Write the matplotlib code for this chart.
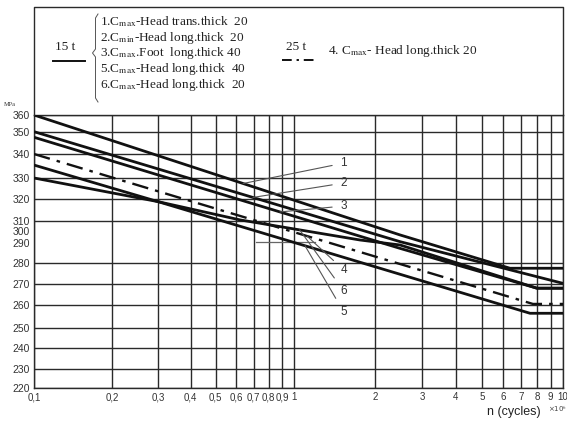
import numpy as np
import matplotlib
matplotlib.use("Agg")
import matplotlib.pyplot as plt
from matplotlib.ticker import NullLocator

# ---------------- data ----------------
x_ticks = [0.1, 0.2, 0.3, 0.4, 0.5, 0.6, 0.7, 0.8, 0.9, 1, 2, 3, 4, 5, 6, 7, 8, 9, 10]
x_ticklabels = ["0,1", "0,2", "0,3", "0,4", "0,5", "0,6", "0,7", "0,8", "0,9",
                "1", "2", "3", "4", "5", "6", "7", "8", "9", "10"]
y_ticks = [360, 350, 340, 330, 320, 310, 300, 290, 280, 270, 260, 250, 240, 230, 220]
y_grid = [360, 350, 340, 330, 320, 310, 280, 270, 260, 250, 240, 230, 220]

# non-uniform stress axis of the original drawing (value -> relative height)
y_knot_vals = [220, 230, 240, 250, 260, 270, 280, 290, 300, 310, 320, 330, 340, 350, 360]
y_knot_pos = [0, 19, 40, 60, 83, 104, 125, 145, 157, 167, 189, 210, 234, 256, 273]

line1_x = [0.1, 2.48, 6.35, 10]
line1_y = [360, 296.7, 277.5, 277.5]
line2_x = [0.1, 2.48, 10]
line2_y = [350.2, 291.1, 270.3]
line3_x = [0.1, 2.48, 8.0, 10]
line3_y = [347.6, 287.3, 268.0, 268.0]
line4_x = [0.1, 7.73, 10]
line4_y = [340, 260.5, 260.5]
line5_x = [0.1, 0.3, 7.54, 10]
line5_y = [330, 318.8, 256.4, 256.4]
line6_x = [0.1, 0.3, 0.62, 1.76, 2.48, 8.0, 10]
line6_y = [335.4, 318.8, 310.5, 292.5, 289.0, 268.0, 268.0]

legend_15t = ["1.C$_{\\mathrm{max}}$-Head trans.thick  20",
              "2.C$_{\\mathrm{min}}$-Head long.thick  20",
              "3.C$_{\\mathrm{max}}$.Foot  long.thick 40",
              "5.C$_{\\mathrm{max}}$-Head long.thick  40",
              "6.C$_{\\mathrm{max}}$-Head long.thick  20"]
legend_25t = "4. C$_{\\mathrm{max}}$- Head long.thick 20"

# ---------------- scales ----------------
YV = np.array([0] + y_knot_vals + [1000], float)
YP = np.array([-418] + y_knot_pos + [1361], float)


def yf(v):
    return np.interp(np.asarray(v, float), YV, YP)


def yi(p):
    return np.interp(np.asarray(p, float), YP, YV)


def xf(x):
    x = np.asarray(x, float)
    l = np.log10(np.clip(x, 1e-300, None))
    return np.where(l < 0, l * 260.0, l * 269.0)


def xi(p):
    p = np.asarray(p, float)
    return np.where(p < 0, 10 ** (p / 260.0), 10 ** (p / 269.0))


def on_line(xs, ys, xq):
    return float(yi(np.interp(xf(xq), xf(np.array(xs)), yf(np.array(ys)))))


plt.rcParams['mathtext.fontset'] = 'stix'
W, H = 567, 425
fig = plt.figure(figsize=(W / 100, H / 100), dpi=100)

ax = fig.add_axes([34 / W, (H - 388) / H, 529 / W, 273 / H])
ax.set_xscale('function', functions=(xf, xi))
ax.set_yscale('function', functions=(yf, yi))
ax.set_xlim(0.1, 10)
ax.set_ylim(220, 360)

gc = '#2a2a2a'
for v in y_grid:
    ax.axhline(v, color=gc, lw=1.0, zorder=1)
for v in x_ticks:
    ax.axvline(v, color=gc, lw=1.0, zorder=1)

ax.set_xticks(x_ticks)
ax.set_xticklabels(x_ticklabels, fontsize=7, family='Liberation Sans', color='#333333')
ax.set_yticks(y_ticks)
ax.set_yticklabels([str(v) for v in y_ticks], fontsize=7.5, family='Liberation Sans', color='#333333')
ax.xaxis.set_minor_locator(NullLocator())
ax.yaxis.set_minor_locator(NullLocator())
ax.tick_params(length=0, pad=3)
for s in ax.spines.values():
    s.set_color(gc)
    s.set_linewidth(1.0)

lc = '#111111'
for xs, ys in [(line1_x, line1_y), (line2_x, line2_y), (line3_x, line3_y),
               (line5_x, line5_y), (line6_x, line6_y)]:
    ax.plot(xs, ys, color=lc, lw=2.0, solid_capstyle='butt', zorder=3)
ax.plot(line4_x, line4_y, color=lc, lw=1.7, dashes=(7, 3, 1.5, 3), zorder=3)

# gray stub line
ax.plot([0.714, 1.197], [291.1, 291.1], color='#666666', lw=0.9, zorder=2)

# leaders
lead = dict(arrowstyle='-', color='#555555', lw=0.8, shrinkA=4, shrinkB=0)
labels = [("1", line1_x, line1_y, 0.637, 336.2),
          ("2", line2_x, line2_y, 0.695, 327.6),
          ("3", line3_x, line3_y, 0.883, 316.8),
          ("4", line4_x, line4_y, 1.118, 276.7),
          ("6", line6_x, line6_y, 1.05, 266.7),
          ("5", line5_x, line5_y, 1.099, 257.0)]
for txt, xs, ys, xq, ylab in labels:
    ax.annotate(txt, xy=(xq, on_line(xs, ys, xq)), xytext=(1.53, ylab),
                ha='center', va='center', fontsize=8.5, family='Liberation Sans',
                color='#333333', arrowprops=lead, zorder=4)

# ---------------- overlay (legend box, axis captions) ----------------
ov = fig.add_axes([0, 0, 1, 1], zorder=5)
ov.set_xlim(0, W)
ov.set_ylim(H, 0)
ov.axis('off')
ov.patch.set_alpha(0)

ov.text(541, 412, "n (cycles)", ha='right', va='center',
        fontsize=9, family='Liberation Sans', color='#222222')
ov.text(548, 409, "×10$^{6}$", ha='left', va='center', fontsize=5, color='#444444')

ov.plot([34, 34, 563, 563], [115, 7, 7, 115], color=gc, lw=1.0)
ov.text(4, 104, "MPa", fontsize=4.5, family='Liberation Serif', color='#333333', va='center')

serif = 'Liberation Serif'
ov.text(55, 53, "15 t", fontsize=9.5, family=serif, va='bottom', ha='left', color='#222222')
ov.plot([53, 85], [61, 61], color='#111111', lw=1.4)
ys_txt = [22, 37.5, 53, 69, 85]
for yy, t in zip(ys_txt, legend_15t):
    ov.text(100, yy, t, fontsize=9.5, family=serif, va='center', ha='left', color='#222222')

# brace
bx = [98, 95.5, 95.5, 92.5, 95.5, 95.5, 98]
by = [14, 18, 49, 53, 57, 98, 102]
ov.plot(bx, by, color='#555555', lw=0.7)

ov.text(286, 53, "25 t", fontsize=9.5, family=serif, va='bottom', ha='left', color='#222222')
ov.plot([282, 318], [60, 60], color='#111111', lw=1.4, dashes=(5, 2.5, 1.2, 2.5))
ov.text(328, 51, legend_25t, fontsize=9.5, family=serif, va='center', ha='left', color='#222222')

fig.savefig("out.png", dpi=100)
